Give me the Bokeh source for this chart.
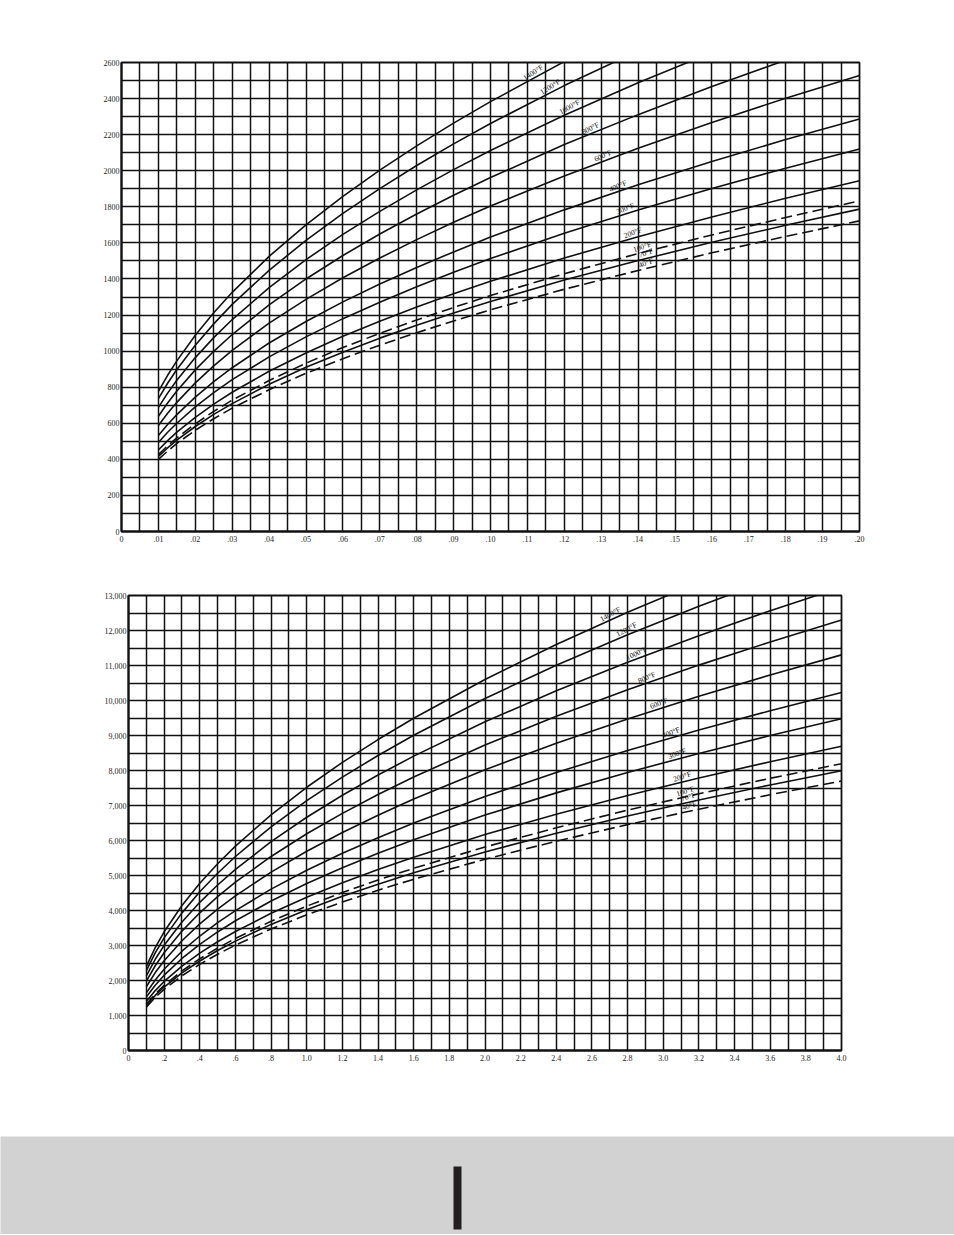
import math
import numpy as np
from bokeh.plotting import figure
from bokeh.layouts import column
from bokeh.models import FixedTicker, CustomJSTickFormatter, BoxAnnotation, ColumnDataSource
from bokeh.core.properties import value
from bokeh.embed import file_html
from bokeh.resources import INLINE

# ---------------- data ----------------
curve_names = ["1400°F", "1200°F", "1000°F", "800°F", "600°F", "400°F",
               "300°F", "200°F", "100°F", "70°F", "40°F"]
curve_dashed = [False, False, False, False, False, False, False, False, True, False, True]

# upper chart (x: 0 - .20, y: 0 - 2600)
top_x = [0.01, 0.0125, 0.015, 0.02, 0.025, 0.03, 0.04, 0.05, 0.06, 0.07, 0.08,
         0.09, 0.10, 0.12, 0.14, 0.16, 0.18, 0.20]
top_1400 = [777, 866, 946, 1088, 1213, 1326, 1525, 1700, 1858, 2003, 2138, 2264, 2383, 2605, 2807]
top_1200 = [737, 822, 898, 1033, 1151, 1259, 1448, 1614, 1764, 1901, 2029, 2149, 2262, 2472, 2664]
top_1000 = [688, 767, 838, 964, 1075, 1175, 1352, 1507, 1647, 1775, 1894, 2006, 2112, 2308, 2488, 2655]
top_800 = [639, 713, 779, 896, 999, 1092, 1256, 1400, 1530, 1649, 1760, 1864, 1962, 2145, 2311, 2467, 2613]
top_600 = [588, 655, 716, 824, 918, 1004, 1155, 1287, 1407, 1516, 1618, 1714, 1804, 1971, 2125, 2268, 2402, 2528]
top_400 = [532, 593, 648, 745, 831, 908, 1045, 1164, 1273, 1372, 1464, 1550, 1632, 1783, 1922, 2051, 2173, 2287]
top_300 = [493, 550, 600, 691, 770, 842, 968, 1079, 1180, 1271, 1357, 1437, 1513, 1653, 1782, 1902, 2014, 2120]
top_200 = [452, 504, 551, 633, 706, 772, 888, 990, 1082, 1166, 1244, 1318, 1387, 1516, 1634, 1744, 1847, 1944]
top_100 = [426, 475, 519, 597, 666, 728, 837, 933, 1020, 1099, 1173, 1242, 1308, 1429, 1541, 1644, 1741, 1833]
top_70 = [416, 463, 506, 582, 649, 709, 816, 910, 994, 1072, 1144, 1211, 1275, 1394, 1502, 1603, 1698, 1787]
top_40 = [400, 446, 488, 561, 625, 684, 786, 877, 958, 1033, 1102, 1167, 1229, 1343, 1447, 1545, 1636, 1722]
top_series = [top_1400, top_1200, top_1000, top_800, top_600, top_400,
              top_300, top_200, top_100, top_70, top_40]

top_x_ticks = [0, 0.01, 0.02, 0.03, 0.04, 0.05, 0.06, 0.07, 0.08, 0.09, 0.10,
               0.11, 0.12, 0.13, 0.14, 0.15, 0.16, 0.17, 0.18, 0.19, 0.20]
top_x_labels = ["0", ".01", ".02", ".03", ".04", ".05", ".06", ".07", ".08", ".09", ".10",
                ".11", ".12", ".13", ".14", ".15", ".16", ".17", ".18", ".19", ".20"]
top_y_ticks = [0, 200, 400, 600, 800, 1000, 1200, 1400, 1600, 1800, 2000, 2200, 2400, 2600]
top_y_labels = ["0", "200", "400", "600", "800", "1000", "1200", "1400", "1600",
                "1800", "2000", "2200", "2400", "2600"]

# lower chart (x: 0 - 4.0, y: 0 - 13,000)
bot_x = [0.1, 0.15, 0.2, 0.3, 0.4, 0.5, 0.6, 0.8, 1.0, 1.2, 1.4, 1.6, 2.0, 2.4,
         2.8, 3.2, 3.6, 4.0]
bot_1400 = [2406, 2941, 3391, 4144, 4779, 5337, 5841, 6734, 7521, 8231, 8884, 9492, 10600, 11601, 12520, 13376]
bot_1200 = [2284, 2791, 3218, 3932, 4535, 5065, 5543, 6391, 7138, 7811, 8430, 9007, 10059, 11009, 11881, 12693, 13456]
bot_1000 = [2132, 2606, 3005, 3672, 4234, 4729, 5175, 5967, 6664, 7293, 7871, 8410, 9392, 10279, 11093, 11852, 12564, 13236]
bot_800 = [1981, 2421, 2791, 3411, 3934, 4394, 4808, 5544, 6192, 6776, 7313, 7814, 8726, 9550, 10306, 11011, 11672, 12297]
bot_600 = [1821, 2226, 2566, 3136, 3616, 4039, 4420, 5096, 5692, 6229, 6723, 7183, 8021, 8779, 9474, 10122, 10730, 11304]
bot_400 = [1647, 2014, 2321, 2837, 3271, 3654, 3998, 4610, 5149, 5635, 6081, 6498, 7256, 7942, 8570, 9156, 9707, 10226]
bot_300 = [1527, 1866, 2152, 2629, 3032, 3387, 3706, 4273, 4773, 5223, 5637, 6023, 6726, 7361, 7944, 8487, 8998, 9479]
bot_200 = [1400, 1712, 1973, 2411, 2781, 3106, 3399, 3919, 4377, 4790, 5170, 5524, 6169, 6751, 7286, 7784, 8251, 8693]
bot_100 = [1320, 1613, 1860, 2273, 2621, 2927, 3203, 3693, 4125, 4514, 4872, 5206, 5814, 6363, 6867, 7336, 7777, 8193]
bot_70 = [1288, 1574, 1814, 2217, 2557, 2856, 3125, 3603, 4024, 4404, 4753, 5079, 5672, 6207, 6699, 7157, 7587, 7993]
bot_40 = [1240, 1516, 1748, 2136, 2463, 2751, 3011, 3471, 3877, 4243, 4579, 4893, 5464, 5980, 6453, 6895, 7309, 7700]
bot_series = [bot_1400, bot_1200, bot_1000, bot_800, bot_600, bot_400,
              bot_300, bot_200, bot_100, bot_70, bot_40]

bot_x_ticks = [0, 0.2, 0.4, 0.6, 0.8, 1.0, 1.2, 1.4, 1.6, 1.8, 2.0, 2.2, 2.4, 2.6,
               2.8, 3.0, 3.2, 3.4, 3.6, 3.8, 4.0]
bot_x_labels = ["0", ".2", ".4", ".6", ".8", "1.0", "1.2", "1.4", "1.6", "1.8", "2.0",
                "2.2", "2.4", "2.6", "2.8", "3.0", "3.2", "3.4", "3.6", "3.8", "4.0"]
bot_y_ticks = [0, 1000, 2000, 3000, 4000, 5000, 6000, 7000, 8000, 9000, 10000,
               11000, 12000, 13000]
bot_y_labels = ["0", "1,000", "2,000", "3,000", "4,000", "5,000", "6,000", "7,000",
                "8,000", "9,000", "10,000", "11,000", "12,000", "13,000"]

# where the temperature captions sit along each curve (x in data units)
top_label_x = [0.1122, 0.1168, 0.1220, 0.1276, 0.1310, 0.1350, 0.1370, 0.1390, 0.1415, 0.1425, 0.1425]
bot_label_x = [2.715, 2.805, 2.861, 2.917, 2.985, 3.052, 3.086, 3.114, 3.131, 3.148, 3.153]

# ---------------- styling ----------------
FONT = "Liberation Serif"
INK = "#111111"
PAGE_W = 954
TICK_CODE = ("const i = tvals.findIndex(t => Math.abs(t - tick) < 1e-6);"
             "return i >= 0 ? tlabels[i] : '';")


def no_align(p):
    try:
        p.frame_align = False
    except Exception:
        pass


def make_chart(width, height, borders, xr, yr, xs, series, xt, xl, yt, yl,
               xgrid_step, ygrid_step, label_x, dash):
    bl, br, bt, bb = borders
    frame_w = width - bl - br
    frame_h = height - bt - bb
    p = figure(width=width, height=height, x_range=xr, y_range=yr,
               output_backend="svg", toolbar_location=None,
               min_border_left=bl, min_border_right=br,
               min_border_top=bt, min_border_bottom=bb,
               background_fill_color="white", border_fill_color="white")
    no_align(p)
    p.xaxis.ticker = FixedTicker(ticks=xt)
    p.yaxis.ticker = FixedTicker(ticks=yt)
    p.xaxis.formatter = CustomJSTickFormatter(args=dict(tvals=xt, tlabels=xl), code=TICK_CODE)
    p.yaxis.formatter = CustomJSTickFormatter(args=dict(tvals=yt, tlabels=yl), code=TICK_CODE)
    nx = int(round((xr[1] - xr[0]) / xgrid_step))
    ny = int(round((yr[1] - yr[0]) / ygrid_step))
    p.xgrid.ticker = FixedTicker(ticks=[xr[0] + i * xgrid_step for i in range(nx + 1)])
    p.ygrid.ticker = FixedTicker(ticks=[yr[0] + i * ygrid_step for i in range(ny + 1)])
    for g in (p.xgrid, p.ygrid):
        g.grid_line_color = INK
        g.grid_line_width = 1.5
        g.grid_line_alpha = 1.0
    for ax in (p.xaxis, p.yaxis):
        ax.axis_line_color = INK
        ax.axis_line_width = 2
        ax.major_tick_in = 0
        ax.major_tick_out = 0
        ax.minor_tick_in = 0
        ax.minor_tick_out = 0
        ax.major_label_text_font = FONT
        ax.major_label_text_font_size = "8px"
        ax.major_label_text_color = "#1e1e1e"
    p.xaxis.major_label_standoff = 4
    p.yaxis.major_label_standoff = 2
    p.outline_line_color = INK
    p.outline_line_width = 1.8

    sx = frame_w / (xr[1] - xr[0])
    sy = frame_h / (yr[1] - yr[0])

    lx, ly, lt, la = [], [], [], []
    for name, ys, dsh, xlab in zip(curve_names, series, dash, label_x):
        xx = xs[:len(ys)]
        p.line(xx, ys, line_color=INK, line_width=1.6,
               line_dash="11 5" if dsh else "solid")
        d = (xr[1] - xr[0]) * 0.01
        y0 = float(np.interp(xlab, xx, ys))
        y1 = float(np.interp(xlab - d, xx, ys))
        y2 = float(np.interp(xlab + d, xx, ys))
        slope = (y2 - y1) / (2 * d) * sy / sx
        lx.append(xlab)
        ly.append(y0)
        lt.append(name)
        la.append(math.atan(slope) + math.radians(5))
    src = ColumnDataSource(dict(x=lx, y=ly, text=lt, angle=la))
    p.text(x="x", y="y", text="text", angle="angle", source=src,
           text_font=value(FONT), text_font_size=value("7.5px"),
           text_align="center", text_baseline="bottom", text_color=INK,
           y_offset=-1)
    return p


# upper chart: frame 121..859 x 62..531 on the page
p1 = make_chart(PAGE_W, 564, (121, PAGE_W - 859, 62, 564 - 531), (0, 0.2), (0, 2600),
                top_x, top_series, top_x_ticks, top_x_labels, top_y_ticks, top_y_labels,
                0.005, 100, top_label_x, curve_dashed)
# lower chart: frame 128..841 x 595..1050 on the page
p2 = make_chart(PAGE_W, 572, (128, PAGE_W - 841, 595 - 564, 1136 - 1050), (0, 4.0), (0, 13000),
                bot_x, bot_series, bot_x_ticks, bot_x_labels, bot_y_ticks, bot_y_labels,
                0.1, 500, bot_label_x, curve_dashed)

# grey footer band with the page marker bar
FOOT_H = 98
p3 = figure(width=PAGE_W, height=FOOT_H, x_range=(0, PAGE_W), y_range=(0, FOOT_H),
            output_backend="svg", toolbar_location=None,
            x_axis_location=None, y_axis_location=None, min_border=0,
            background_fill_color="#d2d2d2", border_fill_color="#d2d2d2",
            outline_line_color=None)
no_align(p3)
p3.grid.visible = False
p3.add_layout(BoxAnnotation(left=453, right=461, bottom=5, top=68,
                            fill_color="#231f20", fill_alpha=1.0, line_color=None))

layout = column(p1, p2, p3, spacing=0)
open("out.html", "w").write(file_html(layout, INLINE))
